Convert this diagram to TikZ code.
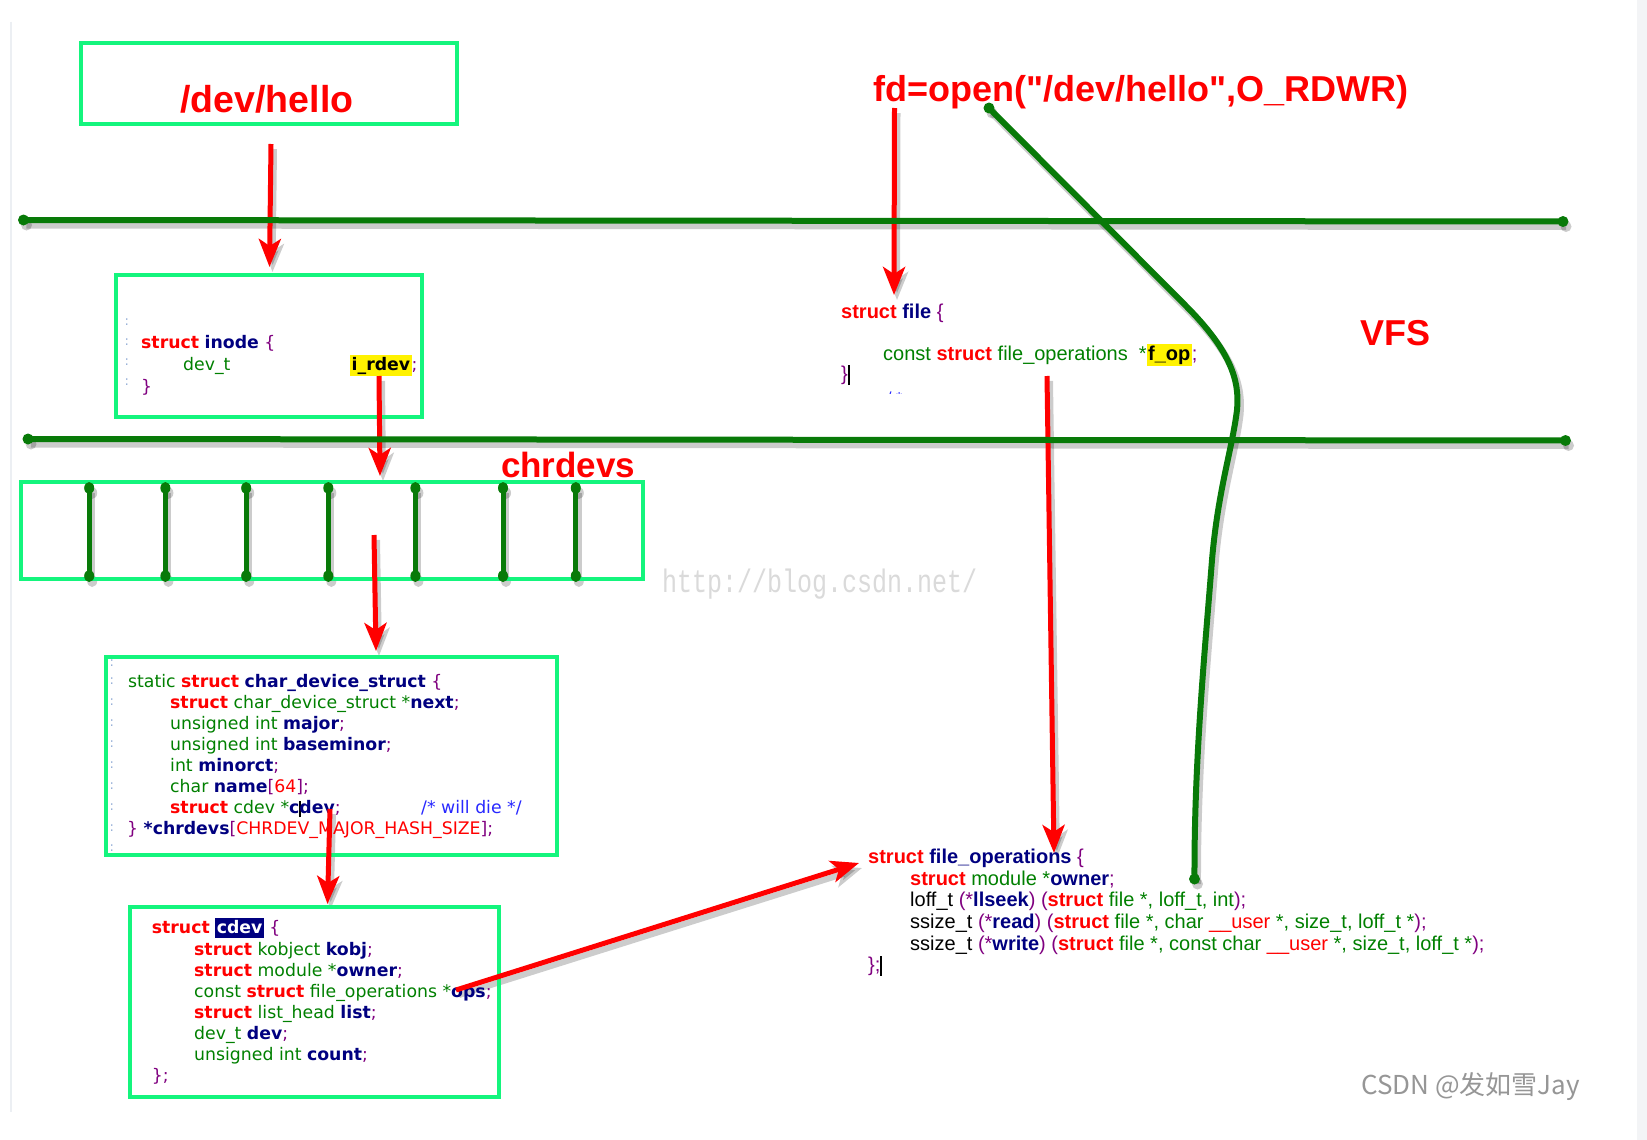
\documentclass[tikz,border=0pt]{standalone}
\usepackage{fontspec}
\usepackage{graphicx}
\usetikzlibrary{arrows.meta}
\newfontfamily\codeA{DejaVu Sans}
\newfontfamily\codeB{Liberation Sans}
\newfontfamily\titlef{Liberation Sans}
\newfontfamily\wmfont{Liberation Mono}
\newfontfamily\cjkf{Noto Sans CJK SC}
\definecolor{boxgreen}{RGB}{20,245,125}
\definecolor{linegreen}{RGB}{8,122,8}
\definecolor{kwred}{RGB}{255,0,0}
\definecolor{tygreen}{RGB}{0,128,0}
\definecolor{idnavy}{RGB}{0,0,128}
\definecolor{pupurple}{RGB}{128,0,128}
\definecolor{cmblue}{RGB}{40,40,255}
\definecolor{hlnavy}{RGB}{0,0,128}
\definecolor{marginblue}{RGB}{150,175,215}
\definecolor{stripgray}{RGB}{243,244,246}
\definecolor{leftgray}{RGB}{236,239,243}
\definecolor{csdngray}{RGB}{150,150,150}
\definecolor{wmgray}{RGB}{218,218,218}
\newcommand\CKw[1]{{\color{kwred}\bfseries #1}}
\newcommand\CTy[1]{{\color{tygreen}#1}}
\newcommand\CId[1]{{\color{idnavy}\bfseries #1}}
\newcommand\CPu[1]{{\color{pupurple}#1}}
\newcommand\CCm[1]{{\color{cmblue}#1}}
\newcommand\CRd[1]{{\color{kwred}#1}}
\newcommand\CHl[1]{{\setlength{\fboxsep}{1.5pt}\colorbox{yellow}{\color{black}\bfseries #1\vphantom{g}}}}
\newcommand\CCur[2]{\rlap{\color{black}\rule[-#1]{1.8pt}{#2}}}
\newcommand\linkset[4]{%
  \draw[#1] (a1s) -- (a1e);
  \draw[#1] (a2s) -- (a2e);
  \draw[#1] (a3s) -- (a3e);
  \draw[#1] (a4s) -- (a4e);
  \draw[#1] (a5s) -- (a5e);
  \draw[#1] (a6s) -- (a6e);
  \draw[#1] (a7s) -- (a7e);
  \draw[#2] (gl1a) -- (gl1b);
  \draw[#2] (gl2a) -- (gl2b);
  \path[#4] (gl1a) circle[radius=5.5pt] (gl1b) circle[radius=5.5pt]
            (gl2a) circle[radius=5.5pt] (gl2b) circle[radius=5.5pt];
  \foreach \i in {1,...,7}{%
    \draw[#3] (bt\i) -- (bb\i);
    \path[#4] (bt\i) ellipse[x radius=5pt,y radius=6pt] (bb\i) ellipse[x radius=5pt,y radius=6pt];}
  \draw[#2] (c0) -- (1185,305) .. controls (1230,350) and (1240,380) .. (1237,410)
            .. controls (1232,450) and (1218,490) .. (1212,560)
            .. controls (1205,650) and (1194,760) .. (c1);
  \path[#4] (c0) circle[radius=5.5pt] (c1) circle[radius=5.5pt];
}
\begin{document}
\begin{tikzpicture}[x=1pt,y=-1pt,
  gbox/.style={draw=boxgreen, line width=4pt, inner sep=0pt, outer sep=0pt},
  codeAst/.style={anchor=base west, inner sep=0pt, font=\codeA\fontsize{17.3}{21}\selectfont},
  codeBst/.style={anchor=base west, inner sep=0pt, font=\codeB\fontsize{20}{22}\selectfont},
  titlest/.style={anchor=base west, inner sep=0pt, text=kwred, font=\titlef\bfseries\fontsize{36}{40}\selectfont},
  marginst/.style={anchor=center, inner sep=0pt, text=marginblue, font=\codeA\fontsize{13}{13}\selectfont},
  redarrow/.style={draw=kwred, line width=5pt, -{Stealth[length=28pt,width=22pt,inset=7pt]}},
  shadowarrow/.style={draw=black, opacity=0.2, line width=6pt, -{Stealth[length=28pt,width=22pt,inset=7pt]}},
  greenline/.style={draw=linegreen, line width=6pt},
  greenbar/.style={draw=linegreen, line width=5pt},
  shadowline/.style={draw=black, opacity=0.2, line width=7pt},
  shadowbar/.style={draw=black, opacity=0.2, line width=6pt},
  greendot/.style={fill=linegreen, draw=none},
  shadowdot/.style={fill=black, opacity=0.2, draw=none},
]
\fill[white] (0,0) rectangle (1647,1140);
\useasboundingbox (0,0) rectangle (1647,1140);
\fill[stripgray] (1637,0) rectangle (1647,1140);
\draw[leftgray, line width=1.5pt] (11,22) -- (11,1112);

% named coordinates for connectors
\coordinate (a1s) at (271,144);   \coordinate (a1e) at (269.5,267);
\coordinate (a2s) at (379,376);   \coordinate (a2e) at (380,476);
\coordinate (a3s) at (374,535);   \coordinate (a3e) at (376,651);
\coordinate (a4s) at (330,809);   \coordinate (a4e) at (327.5,904);
\coordinate (a5s) at (456,990);   \coordinate (a5e) at (859,863);
\coordinate (a6s) at (894.5,108); \coordinate (a6e) at (894,295);
\coordinate (a7s) at (1047,376);  \coordinate (a7e) at (1054,853);
\coordinate (gl1a) at (23.5,220); \coordinate (gl1b) at (1563,221.5);
\coordinate (gl2a) at (28,439);   \coordinate (gl2b) at (1565.5,440.5);
\coordinate (c0) at (989,108);    \coordinate (c1) at (1194.5,879);
\foreach \x [count=\i] in {89.2,165.4,246.2,328.3,415.4,503,575.8}{%
  \coordinate (bt\i) at (\x,488); \coordinate (bb\i) at (\x,576);}

% shadows
\begin{scope}[transform canvas={shift={(3pt,-5pt)}}]
  \linkset{shadowarrow}{shadowline}{shadowbar}{shadowdot}
\end{scope}

% boxes
\node[gbox, minimum width=376pt, minimum height=80pt] (devbox) at (269,83.5) {};
\node[gbox, minimum width=306.5pt, minimum height=142pt] (inodebox) at (268.75,345.5) {};
\node[gbox, minimum width=622pt, minimum height=97pt] (chrbox) at (332,530.5) {};
\node[gbox, minimum width=450.5pt, minimum height=197.5pt] (cdsbox) at (331.25,755.75) {};
\node[gbox, minimum width=369pt, minimum height=190pt] (cdevbox) at (314.5,1002) {};

% titles
\node[titlest, anchor=base, font=\titlef\bfseries\fontsize{37.5}{40}\selectfont] (devhello) at (267,112) {/dev/hello};
\node[titlest] (fdopen) at (873.5,101.7) {fd=open("/dev/hello",O\_RDWR)};
\node[titlest, font=\titlef\bfseries\fontsize{35}{40}\selectfont] (chrdevs) at (500.8,477) {chrdevs};
\node[titlest] (vfs) at (1360,345) {VFS};

% margin marks
\foreach \y [count=\i] in {321.7,341.7,361.7,381.7}{\node[marginst] (mi\i) at (126.7,\y) {:};}
\foreach \y [count=\i] in {663,681,702,723,744,765,786,807,828,848}{\node[marginst] (mc\i) at (111.7,\y) {:};}

% struct inode
\node[codeAst] (in1) at (141,348) {\CKw{struct} \CId{inode} \CPu{\{}};
\node[codeAst] (in2) at (183,370) {\CTy{dev\_t}};
\node[codeAst] (in2b) at (350,370) {\CHl{i\_rdev}\CPu{;}};
\node[codeAst] (in3) at (141,392) {\CPu{\}}};

% char_device_struct
\node[codeAst] (cd1) at (128,687) {\CTy{static} \CKw{struct} \CId{char\_device\_struct} \CPu{\{}};
\node[codeAst] (cd2) at (170,708) {\CKw{struct} \CTy{char\_device\_struct *}\CId{next}\CPu{;}};
\node[codeAst] (cd3) at (170,729) {\CTy{unsigned int} \CId{major}\CPu{;}};
\node[codeAst] (cd4) at (170,750) {\CTy{unsigned int} \CId{baseminor}\CPu{;}};
\node[codeAst] (cd5) at (170,771) {\CTy{int} \CId{minorct}\CPu{;}};
\node[codeAst] (cd6) at (170,792) {\CTy{char} \CId{name}\CPu{[}\CRd{64}\CPu{];}};
\node[codeAst] (cd7) at (170,813) {\CKw{struct} \CTy{cdev *}\CId{c}\CCur{4pt}{16pt}\CId{dev}\CPu{;}};
\node[codeAst] (cd7b) at (421,813) {\CCm{/* will die */}};
\node[codeAst] (cd8) at (127,834) {\CPu{\}} \CId{*chrdevs}\CPu{[}\CRd{CHRDEV\_MAJOR\_HASH\_SIZE}\CPu{];}};

% struct cdev
\node[codeAst] (cv1) at (151.7,933) {\CKw{struct} {\setlength{\fboxsep}{1.5pt}\colorbox{hlnavy}{\color{white}\bfseries cdev\vphantom{g}}} \CPu{\{}};
\node[codeAst] (cv2) at (194,955.5) {\CKw{struct} \CTy{kobject} \CId{kobj}\CPu{;}};
\node[codeAst] (cv3) at (194,976.5) {\CKw{struct} \CTy{module *}\CId{owner}\CPu{;}};
\node[codeAst] (cv4) at (194,997.5) {\CTy{const} \CKw{struct} \CTy{file\_operations *}\CId{ops}\CPu{;}};
\node[codeAst] (cv5) at (194,1018.5) {\CKw{struct} \CTy{list\_head} \CId{list}\CPu{;}};
\node[codeAst] (cv6) at (194,1039.5) {\CTy{dev\_t} \CId{dev}\CPu{;}};
\node[codeAst] (cv7) at (194,1060.5) {\CTy{unsigned int} \CId{count}\CPu{;}};
\node[codeAst] (cv8) at (151.7,1081.5) {\CPu{\};}};

% struct file
\node[codeBst] (sf1) at (841,318) {\CKw{struct} \CId{file} \CPu{\{}};
\node[codeBst] (sf2) at (883,360) {\CTy{const} \CKw{struct} \CTy{file\_operations}\ \ \CTy{*}\CHl{f\_op}\CPu{;}};
\node[codeBst] (sf3) at (841,380) {\CPu{\}}\CCur{5pt}{20pt}};
\begin{scope}
  \clip (884,386) rectangle (912,393);
  \node[codeBst, font=\codeB\fontsize{16}{18}\selectfont] (sf4) at (887,403) {\CCm{/ *}};
\end{scope}

% struct file_operations
\node[codeBst] (fo1) at (868,863) {\CKw{struct} \CId{file\_operations} \CPu{\{}};
\node[codeBst] (fo2) at (910,885) {\CKw{struct} \CTy{module *}\CId{owner}\CPu{;}};
\node[codeBst] (fo3) at (910,906.5) {loff\_t \CPu{(*}\CId{llseek}\CPu{)} \CPu{(}\CKw{struct} \CTy{file *, loff\_t, int}\CPu{);}};
\node[codeBst] (fo4) at (910,928) {ssize\_t \CPu{(*}\CId{read}\CPu{)} \CPu{(}\CKw{struct} \CTy{file *, char} \CRd{\_\_user} \CTy{*, size\_t, loff\_t *}\CPu{);}};
\node[codeBst] (fo5) at (910,950) {ssize\_t \CPu{(*}\CId{write}\CPu{)} \CPu{(}\CKw{struct} \CTy{file *, const char} \CRd{\_\_user} \CTy{*, size\_t, loff\_t *}\CPu{);}};
\node[codeBst] (fo6) at (868,971.5) {\CPu{\};}\CCur{4pt}{20pt}};

% watermarks
\node[anchor=base west, inner sep=0pt, text=wmgray, font=\wmfont\fontsize{25}{25}\selectfont] (wm) at (662,592) {\scalebox{1}[1.3]{http://blog.csdn.net/}};
\node[anchor=base west, inner sep=0pt, text=csdngray, font=\cjkf\fontsize{26}{26}\selectfont] (csdn) at (1361,1094) {CSDN @发如雪Jay};

% connectors
\linkset{redarrow}{greenline}{greenbar}{greendot}
\end{tikzpicture}
\end{document}
